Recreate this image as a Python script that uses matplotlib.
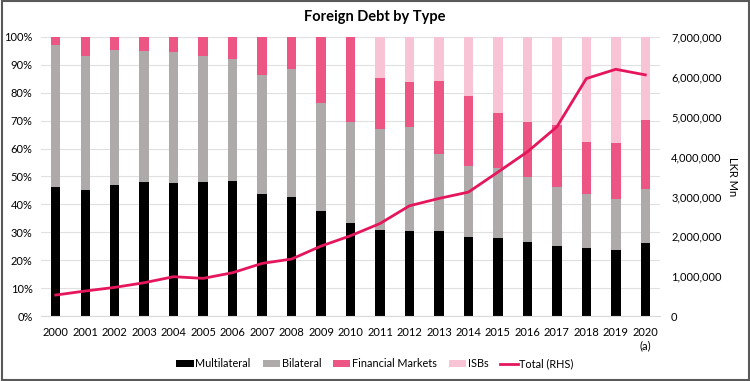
import matplotlib
matplotlib.use("Agg")
import matplotlib.pyplot as plt
import numpy as np
from matplotlib.patches import Rectangle

plt.rcParams['font.family'] = ['Lato', 'DejaVu Sans']

years = ['2000', '2001', '2002', '2003', '2004', '2005', '2006', '2007', '2008', '2009',
         '2010', '2011', '2012', '2013', '2014', '2015', '2016', '2017', '2018', '2019', '2020\n(a)']
# cumulative tops (%)
multilateral = [46.1, 45.3, 47.1, 47.9, 47.7, 47.9, 48.3, 43.6, 42.5, 37.6,
                33.2, 30.8, 30.3, 30.3, 28.3, 27.8, 26.5, 25.2, 24.2, 23.6, 26.3]
bilateral_top = [97.0, 93.3, 95.5, 95.1, 94.5, 93.2, 92.2, 86.2, 88.4, 76.5,
                 69.7, 66.9, 67.7, 58.1, 53.8, 53.0, 49.8, 46.2, 43.7, 41.8, 45.5]
fm_top = [100, 100, 100, 100, 100, 100, 100, 100, 100, 100,
          100, 85.2, 83.8, 84.4, 78.8, 72.8, 69.6, 68.6, 62.5, 62.1, 70.2]
bilateral = [b - m for b, m in zip(bilateral_top, multilateral)]
financial = [f - b for f, b in zip(fm_top, bilateral_top)]
isbs = [100 - f for f in fm_top]
total = [526000, 627000, 718000, 835000, 986000, 944000, 1086000, 1320000, 1429000, 1754000,
         2013000, 2320000, 2765000, 2949000, 3108000, 3610000, 4119000, 4745000, 5957000, 6190000, 6050000]

c_multi = '#000000'
c_bil = '#AEAAAA'
c_fm = '#EC5584'
c_isb = '#F8C3D4'
c_line = '#E6165C'

fig = plt.figure(figsize=(7.5, 3.81), dpi=100)
fig.patches.append(Rectangle((0.002, 0.003), 0.996, 0.994, transform=fig.transFigure,
                             fill=False, edgecolor='#595959', linewidth=1.5))
ax = fig.add_axes([0.0547, 0.1706, 0.8253, 0.7323])
x = np.arange(len(years))
w = 0.32
ax.bar(x, multilateral, w, color=c_multi, label='Multilateral', zorder=2)
ax.bar(x, bilateral, w, bottom=multilateral, color=c_bil, label='Bilateral', zorder=2)
ax.bar(x, financial, w, bottom=bilateral_top, color=c_fm, label='Financial Markets', zorder=2)
ax.bar(x, isbs, w, bottom=fm_top, color=c_isb, label='ISBs', zorder=2)
ax.set_ylim(0, 100)
ax.set_xlim(-0.5, len(years) - 0.5)
ax.set_yticks(np.arange(0, 101, 10))
ax.set_yticklabels([f'{v}%' for v in range(0, 101, 10)], fontsize=8)
ax.set_xticks(x)
ax.set_xticklabels(years, fontsize=8)
ax.tick_params(length=0, pad=6)
ax.tick_params(axis='x', pad=8)
ax.grid(axis='y', color='#E0E0E0', linewidth=0.8, zorder=0)
for s in ax.spines.values():
    s.set_visible(False)
ax.spines['bottom'].set_visible(True)
ax.spines['bottom'].set_color('#D9D9D9')

ax2 = ax.twinx()
ax2.plot(x, total, color=c_line, linewidth=2, label='Total (RHS)', zorder=3)
ax2.set_ylim(0, 7000000)
ax2.set_yticks(np.arange(0, 7000001, 1000000))
ax2.set_yticklabels(['0'] + [f'{v:,}' for v in range(1000000, 7000001, 1000000)], fontsize=8)
ax2.tick_params(length=0, pad=8)
for s in ax2.spines.values():
    s.set_visible(False)
ax2.set_ylabel('LKR Mn', rotation=270, fontsize=8, labelpad=12)

fig.text(0.5, 0.955, 'Foreign Debt by Type', ha='center', va='center', fontsize=10.5, fontweight='bold')

h1, l1 = ax.get_legend_handles_labels()
h2, l2 = ax2.get_legend_handles_labels()
fig.legend(h1 + h2, l1 + l2, loc='center', bbox_to_anchor=(0.5, 0.045), ncol=5, frameon=False,
           fontsize=7.8, handlelength=1.6, handleheight=0.7, handletextpad=0.15, columnspacing=1.1)

fig.savefig('out.png', dpi=100)
